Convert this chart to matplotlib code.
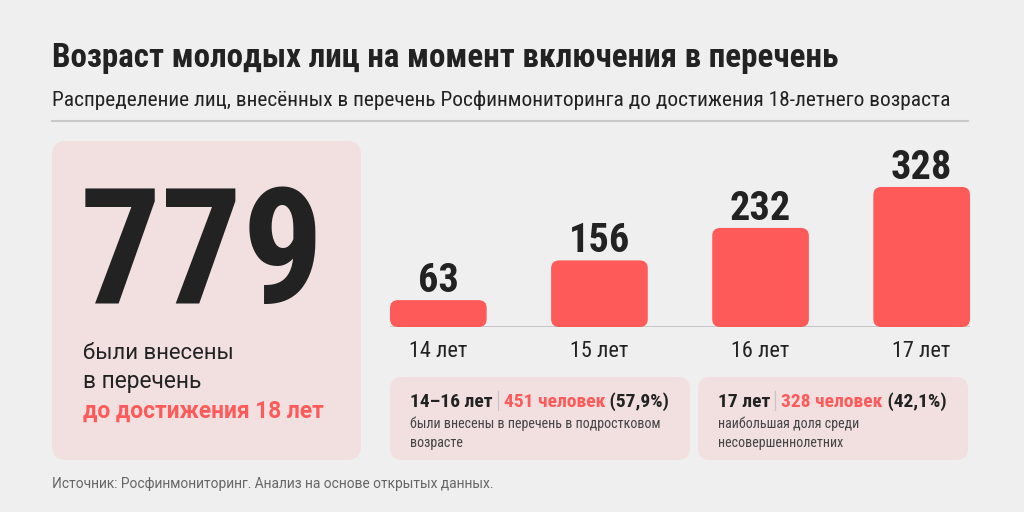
import matplotlib
matplotlib.use("Agg")
import matplotlib.pyplot as plt
from matplotlib import font_manager as fm
from matplotlib.patches import FancyBboxPatch

# data
ages = ["14 лет", "15 лет", "16 лет", "17 лет"]
counts = [63, 156, 232, 328]
total = 779
title = "Возраст молодых лиц на момент включения в перечень"
subtitle = "Распределение лиц, внесённых в перечень Росфинмониторинга до достижения 18-летнего возраста"
left_lines = ["были внесены", "в перечень"]
left_accent = "до достижения 18 лет"
cards = [
    ("14–16 лет", "451 человек", " (57,9%)", ["были внесены в перечень в подростковом", "возрасте"]),
    ("17 лет", "328 человек", " (42,1%)", ["наибольшая доля среди", "несовершеннолетних"]),
]
source = "Источник: Росфинмониторинг. Анализ на основе открытых данных."

BG = "#efefef"
PINK = "#f2e0e0"
RED = "#ff5a5a"
DARK = "#222222"
GREY = "#666666"

names = {f.name for f in fm.fontManager.ttflist}
font = "DejaVu Sans"
for c in ["Roboto Condensed", "Liberation Sans Narrow", "Roboto"]:
    if c in names:
        font = c
        break
body = "Roboto" if "Roboto" in names else font
plt.rcParams["font.family"] = [font, "DejaVu Sans"]

fig = plt.figure(figsize=(10.24, 5.12), dpi=100, facecolor=BG)
bg = fig.add_axes([0, 0, 1, 1])
bg.set_xlim(0, 1024)
bg.set_ylim(512, 0)
bg.axis("off")
renderer = fig.canvas.get_renderer()


def width(t):
    return t.get_window_extent(renderer).width


def fit(t, w):
    # scale the font so the text spans the given width in pixels
    t.set_fontsize(t.get_fontsize() * w / width(t))
    return t


def runs(x, y, parts, size):
    for txt, col, wt in parts:
        if txt == "|":
            bg.plot([x + 5, x + 5], [y - 16, y + 3], color="#c4c4c4", lw=0.9)
            x += 11
            continue
        t = bg.text(x, y, txt, fontsize=size, color=col, weight=wt, va="baseline")
        x += width(t)


def box(x, y, w, h, r=12):
    bg.add_patch(FancyBboxPatch((x, y), w, h, boxstyle=f"round,pad=0,rounding_size={r}",
                                fc=PINK, ec="none"))


# header
fit(bg.text(52, 67, title, fontsize=22, weight="bold", color=DARK, va="baseline"), 786)
fit(bg.text(52, 106, subtitle, fontsize=14, color=DARK, va="baseline"), 906)
bg.plot([52, 968], [121, 121], color="#c9c9c9", lw=1.5)

# left card
box(52, 141, 309, 319, 14)
bg.text(80, 303, str(total), fontsize=116, weight="bold", color=DARK, va="baseline")
for i, (s, w) in enumerate(zip(left_lines, [152, 119])):
    fit(bg.text(83, 359 + i * 29, s, fontsize=15, color=DARK, va="baseline", family=body), w)
fit(bg.text(83, 418, left_accent, fontsize=15, weight="bold", color=RED, va="baseline", family=body), 243)

# bottom cards
desc_size = None
for (x0, w0), (head, red, pct, desc) in zip([(390, 300), (698, 270)], cards):
    box(x0, 377, w0, 83, 12)
    runs(x0 + 20, 407, [(head, DARK, "bold"), ("|", None, None), (red, RED, "bold"), (pct, DARK, "bold")], 14)
    for j, s in enumerate(desc):
        t = bg.text(x0 + 20, 428 + j * 19, s, fontsize=10, color="#444444", va="baseline")
        if desc_size is None:
            desc_size = fit(t, 250).get_fontsize()
        t.set_fontsize(desc_size)

fit(bg.text(52, 488, source, fontsize=10, color=GREY, va="baseline", family=body), 441)

# bars
ax = fig.add_axes([390 / 1024, (512 - 327) / 512, 580 / 1024, (327 - 140) / 512])
ax.set_facecolor("none")
ax.set_xlim(-0.3, 3.3)
ax.set_ylim(0, 438)
bars = ax.bar(range(len(counts)), counts, width=0.6, color="none")
asp = (438 / 187) / (3.6 / 580)
for b in bars:
    ax.add_patch(FancyBboxPatch((b.get_x(), 0), b.get_width(), b.get_height(),
                                boxstyle="round,pad=0,rounding_size=0.05", mutation_aspect=asp,
                                fc=RED, ec="none"))
for i, v in enumerate(counts):
    ax.annotate(str(v), (i, v), xytext=(0, 8), textcoords="offset pixels", ha="center",
                va="baseline", fontsize=29, weight="bold", color=DARK)
ax.axhline(0, color="#c9c9c9", lw=1.5, zorder=0)
ax.set_xticks(range(len(ages)), ages)
ax.tick_params(axis="x", length=0, pad=10, labelsize=16, labelcolor=DARK)
ax.set_yticks([])
for s in ax.spines.values():
    s.set_visible(False)

fig.savefig("out.png", dpi=100, facecolor=BG)
